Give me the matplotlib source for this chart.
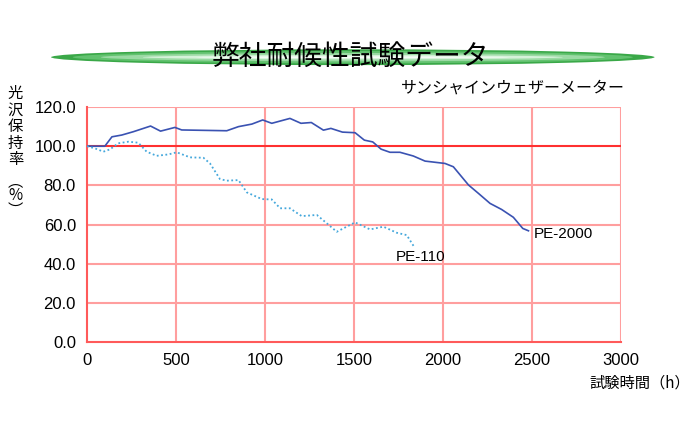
import matplotlib
matplotlib.use("Agg")
from matplotlib import pyplot as plt
from matplotlib.patches import Ellipse

plt.rcParams['font.family'] = ['Noto Sans CJK JP', 'DejaVu Sans']

# PE-2000 (solid)
pe2000_h = [0, 100, 140, 195, 260, 357, 413, 494, 532, 785, 851, 926, 987, 1038,
            1140, 1202, 1260, 1328, 1370, 1435, 1506, 1558, 1605, 1652, 1702, 1758,
            1833, 1899, 2011, 2058, 2143, 2199, 2264, 2329, 2395, 2448, 2480]
pe2000_v = [100, 100, 104.8, 105.7, 107.4, 110.3, 107.7, 109.6, 108.3, 107.9, 110,
            111.3, 113.4, 111.7, 114.2, 111.7, 112.1, 108.2, 109.1, 107.2, 106.9,
            103.1, 102.2, 98.5, 96.9, 96.9, 95, 92.4, 91.2, 89.5, 80.2, 75.9, 70.8,
            67.7, 63.7, 58, 56.8]

# PE-110 (dotted)
pe110_h = [0, 45, 92, 129, 176, 232, 288, 335, 391, 457, 504, 579, 654, 691, 747,
           785, 851, 898, 982, 1038, 1085, 1140, 1206, 1291, 1337, 1403, 1506, 1590,
           1665, 1740, 1796, 1837]
pe110_v = [100, 98.9, 97.2, 98.4, 101.5, 102.3, 101.8, 97.2, 95.1, 95.8, 96.9, 94.3,
           94.1, 91.2, 83.2, 82.4, 82.7, 76.4, 73, 72.8, 68.3, 68.3, 64.3, 64.9, 61.4,
           56.3, 61.1, 57.5, 58.9, 55.8, 54.6, 48.7]

x_ticks = [0, 500, 1000, 1500, 2000, 2500, 3000]
y_ticks = [0, 20, 40, 60, 80, 100, 120]

grid_col = "#ff9e9e"
red = "#ff3030"
latin = "Liberation Sans"

fig = plt.figure(figsize=(7, 4.4), dpi=100)
ax = fig.add_axes([0.1243, 0.2227, 0.7629, 0.534])

for xv in x_ticks[1:]:
    ax.axvline(xv, color=grid_col, lw=1.5, zorder=1)
for yv in y_ticks[1:]:
    ax.axhline(yv, color=red if yv == 100 else grid_col, lw=1.5, zorder=1)

ax.plot(pe2000_h, pe2000_v, color="#3a52b2", lw=1.2, zorder=3)
ax.plot(pe110_h, pe110_v, color="#45a8dc", lw=1.3, ls=(0, (1.0, 1.4)), zorder=3)

ax.text(2510, 55, "PE-2000", fontsize=11, family=latin, va="center", ha="left")
ax.text(1736, 43.5, "PE-110", fontsize=11, family=latin, va="center", ha="left")

ax.set_xlim(0, 3000)
ax.set_ylim(0, 120)
ax.set_xticks(x_ticks)
ax.set_yticks(y_ticks)
ax.set_yticklabels([f"{v:.1f}" for v in y_ticks])
ax.tick_params(length=0, labelsize=12, pad=8)
for lab in ax.get_xticklabels() + ax.get_yticklabels():
    lab.set_family(latin)
for s in ["top", "right"]:
    ax.spines[s].set_visible(False)
ax.spines["left"].set_color("#ff5a5a")
ax.spines["bottom"].set_color("#ff5a5a")
ax.spines["left"].set_linewidth(1.5)
ax.spines["bottom"].set_linewidth(1.5)

# title banner (green lens shape with a lighter middle)
layers = [(0.036, 0.862, "#3aa848"), (0.028, 0.80, "#62c26f"),
          (0.019, 0.72, "#9bdaa4"), (0.010, 0.60, "#d6f2da"), (0.004, 0.45, "#f6fcf7")]
for h, w, c in layers:
    fig.add_artist(Ellipse((0.504, 0.870), w, h, transform=fig.transFigure,
                           facecolor=c, edgecolor="none", zorder=0))
fig.text(0.500, 0.870, "弊社耐候性試験データ", fontsize=20, ha="center", va="center")
fig.text(0.893, 0.800, "サンシャインウェザーメーター", fontsize=11.5, ha="right", va="center")

fig.text(0.022, 0.808, "光\n沢\n保\n持\n率", fontsize=11, ha="center", va="top",
         linespacing=0.98)
fig.text(0.022, 0.555, "︵\n%\n︶", fontsize=11, ha="center", va="center",
         linespacing=0.8)
fig.text(0.986, 0.130, "試験時間（h）", fontsize=11, ha="right", va="center")

fig.savefig("out.png", dpi=100)
